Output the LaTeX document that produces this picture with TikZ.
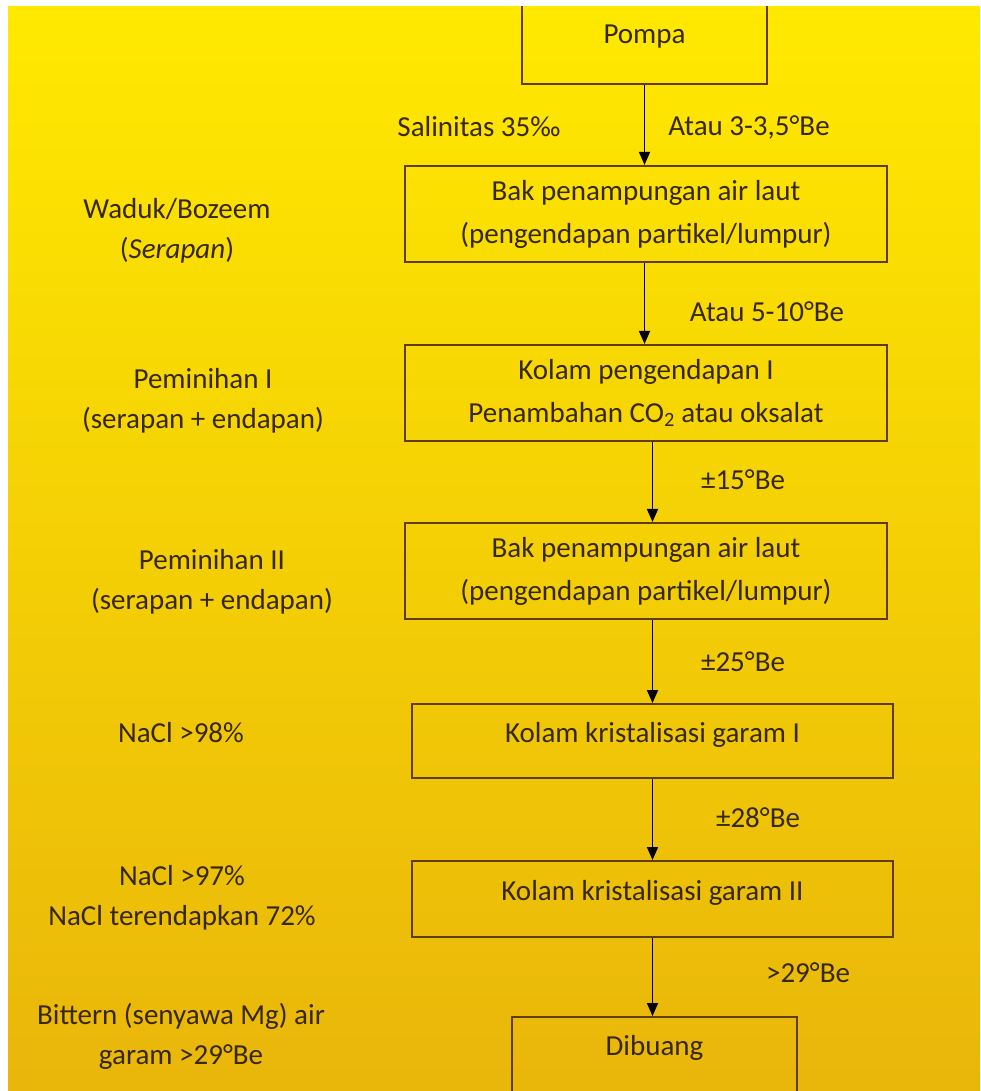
\documentclass[tikz,border=0pt]{standalone}
\usepackage{fontspec}
\setmainfont{Carlito}
\usetikzlibrary{arrows.meta}
\definecolor{txt}{RGB}{55,40,5}
\definecolor{boxline}{RGB}{95,60,10}
\definecolor{ytop}{RGB}{255,233,0}
\definecolor{ymid}{RGB}{250,212,0}
\definecolor{ybot}{RGB}{233,182,10}
\begin{document}
\begin{tikzpicture}[x=1pt,y=-1pt,
  every node/.style={text=txt, font=\fontsize{29}{40}\selectfont},
  stage/.style={draw=boxline, line width=2.2pt, inner sep=0pt, align=center, font=\fontsize{29}{43}\selectfont},
  flow/.style={line width=1.8pt, draw=black, -{Triangle[length=13pt,width=11pt]}},
  lbl/.style={align=center}
]
\path[use as bounding box] (0,0) rectangle (980,1091);
\fill[white] (0,0) rectangle (980,1091);
\shade[top color=ytop, middle color=ymid, bottom color=ybot] (8,7) rectangle (980,1091);

\begin{scope}
\clip (8,7) rectangle (980,1091);
\node[stage, minimum width=245pt, minimum height=94pt] (pompa) at (644.5,37) {Pompa};
\node[stage, minimum width=482pt, minimum height=96pt] (bak1) at (646,214) {Bak penampungan air laut\\(pengendapan partikel/lumpur)};
\node[stage, minimum width=482pt, minimum height=96pt] (kp1) at (646,393) {Kolam pengendapan I\\Penambahan CO\textsubscript{2} atau oksalat};
\node[stage, minimum width=482pt, minimum height=96pt] (bak2) at (646,571) {Bak penampungan air laut\\(pengendapan partikel/lumpur)};
\node[stage, minimum width=481pt, text height=38pt, text depth=36pt, anchor=north] (kg1) at (652.5,703) {Kolam kristalisasi garam I};
\node[stage, minimum width=481pt, text height=39pt, text depth=37pt, anchor=north] (kg2) at (652.5,860) {Kolam kristalisasi garam II};
\node[stage, minimum width=285pt, text height=38pt, text depth=37pt, anchor=north] (dibuang) at (654.5,1016) {Dibuang};
\end{scope}

\draw[flow] (pompa.south) -- (pompa.south |- bak1.north);
\draw[flow] (pompa.south |- bak1.south) -- (pompa.south |- kp1.north);
\draw[flow] (kg1.north |- kp1.south) -- (kg1.north |- bak2.north);
\draw[flow] (kg1.north |- bak2.south) -- (kg1.north);
\draw[flow] (kg1.south) -- (kg2.north);
\draw[flow] (kg2.south) -- (kg2.south |- dibuang.north);

\node (sal) at (479,127) {Salinitas 35‰};
\node (t1) at (749,127) {Atau 3-3,5°Be};
\node (t2) at (767,312) {Atau 5-10°Be};
\node (t3) at (743,480) {±15°Be};
\node (t4) at (743,662) {±25°Be};
\node (t5) at (758,818) {±28°Be};
\node (t6) at (808,973) {>29°Be};

\node[lbl] (l1) at (177,231) {Waduk/Bozeem\\(\textit{Serapan})};
\node[lbl] (l2) at (203,401) {Peminihan I\\(serapan + endapan)};
\node[lbl] (l3) at (212,582) {Peminihan II\\(serapan + endapan)};
\node (l4) at (181,733) {NaCl >98\%};
\node[lbl] (l5) at (182,898) {NaCl >97\%\\NaCl terendapkan 72\%};
\node[lbl] (l6) at (181,1036) {Bittern (senyawa Mg) air\\garam >29°Be};
\end{tikzpicture}
\end{document}
